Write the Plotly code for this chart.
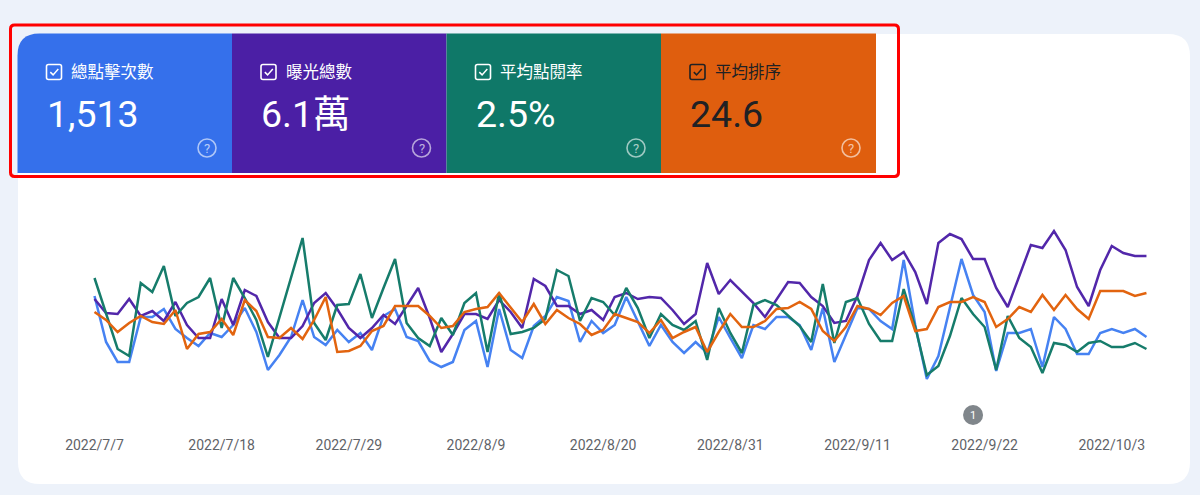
import plotly.graph_objects as go
import pandas as pd

# ---------------- data ----------------
start_date = "2022-07-07"
n_days = 92
dates = pd.date_range(start_date, periods=n_days, freq="D")

tick_dates = ["2022-07-07", "2022-07-18", "2022-07-29", "2022-08-09", "2022-08-20",
              "2022-08-31", "2022-09-11", "2022-09-22", "2022-10-03"]
tick_labels = ["2022/7/7", "2022/7/18", "2022/7/29", "2022/8/9", "2022/8/20",
               "2022/8/31", "2022/9/11", "2022/9/22", "2022/10/3"]

metric_names = ["總點擊次數", "曝光總數", "平均點閱率", "平均排序"]
metric_totals = ["1,513", "6.1萬", "2.5%", "24.6"]

# relative chart heights of each metric (each metric has its own hidden scale)
clicks = [104, 58, 38, 38, 83, 83, 91, 71, 62, 54, 67, 63, 75, 92, 68, 30, 45, 63, 100, 63,
          55, 70, 58, 67, 50, 84, 91, 63, 59, 39, 33, 38, 70, 79, 33, 91, 50, 42, 74, 84,
          103, 99, 58, 79, 67, 75, 103, 79, 54, 75, 58, 47, 58, 47, 83, 62, 42, 75, 71, 83,
          83, 75, 50, 92, 38, 65, 92, 91, 79, 71, 140, 75, 21, 44, 92, 141, 105, 88, 29, 67,
          67, 71, 33, 83, 71, 46, 46, 67, 71, 67, 71, 63]
impressions = [101, 87, 86, 101, 84, 89, 79, 98, 75, 62, 62, 101, 75, 110, 104, 78, 62, 62, 74, 97,
               107, 91, 72, 62, 72, 85, 76, 94, 112, 82, 48, 66, 86, 86, 81, 100, 88, 72, 121, 114,
               94, 94, 86, 90, 80, 103, 107, 101, 103, 102, 90, 76, 86, 137, 106, 120, 109, 97, 83, 101,
               118, 117, 103, 94, 77, 79, 104, 140, 157, 140, 148, 128, 96, 157, 166, 161, 141, 141, 112, 93,
               125, 155, 152, 169, 150, 113, 94, 130, 154, 147, 144, 144]
ctr = [122, 86, 51, 44, 117, 108, 134, 84, 97, 103, 122, 72, 122, 102, 80, 43, 83, 123, 162, 77,
       60, 95, 96, 126, 82, 112, 141, 77, 62, 54, 82, 65, 97, 107, 48, 107, 66, 68, 72, 81,
       130, 124, 79, 102, 98, 85, 112, 92, 62, 86, 75, 70, 79, 40, 92, 67, 47, 95, 100, 95,
       84, 74, 58, 116, 57, 98, 102, 76, 59, 59, 111, 73, 25, 34, 64, 102, 86, 73, 30, 84,
       62, 53, 27, 57, 55, 48, 57, 59, 53, 53, 57, 51]
position = [88, 80, 68, 77, 84, 78, 76, 90, 51, 66, 68, 81, 65, 100, 89, 63, 62, 72, 61, 80,
            103, 48, 49, 54, 69, 74, 94, 94, 94, 84, 72, 74, 88, 91, 93, 107, 92, 78, 96, 76,
            90, 82, 76, 65, 70, 86, 82, 78, 67, 80, 62, 68, 73, 48, 68, 86, 73, 73, 79, 91,
            92, 98, 91, 69, 59, 73, 94, 91, 85, 97, 104, 69, 71, 93, 98, 98, 103, 98, 73, 81,
            93, 88, 105, 90, 105, 91, 81, 109, 109, 109, 104, 107]

annotation_date = "2022-09-21"
annotation_label = "1"

# ---------------- style ----------------
W, H = 1200, 495
PLOT_BOTTOM = 435          # pixel row of the x axis
FIRST_X = 94.5             # pixel of first date
DAY_PX = 11.56             # pixels per day

tile_colors = ["#3570eb", "#4b1fa5", "#0f7868", "#df5e0e"]
line_colors = ["#4682f2", "#5227aa", "#167c6b", "#e2640f"]
text_colors = ["#ffffff", "#ffffff", "#ffffff", "#202124"]
tile_edges = [17.5, 232, 446.5, 661, 876]
TILE_TOP, TILE_BOTTOM = 33.5, 173

FONT = "Roboto, 'Noto Sans CJK TC', sans-serif"


def px(x):
    return x / W


def py(y):
    return (PLOT_BOTTOM - y) / PLOT_BOTTOM


def pt(x, y):
    return f"{px(x):.6f},{py(y):.6f}"


def rr_path(x0, y0, x1, y1, tl, tr, br, bl):
    return (f"M {pt(x0 + tl, y0)} L {pt(x1 - tr, y0)} Q {pt(x1, y0)} {pt(x1, y0 + tr)} "
            f"L {pt(x1, y1 - br)} Q {pt(x1, y1)} {pt(x1 - br, y1)} "
            f"L {pt(x0 + bl, y1)} Q {pt(x0, y1)} {pt(x0, y1 - bl)} "
            f"L {pt(x0, y0 + tl)} Q {pt(x0, y0)} {pt(x0 + tl, y0)} Z")


fig = go.Figure()

series = [clicks, impressions, ctr, position]
for vals, col, name in zip(series, line_colors, metric_names):
    fig.add_trace(go.Scatter(x=dates, y=vals, mode="lines", name=name,
                             line=dict(color=col, width=2.5), hoverinfo="skip"))

shapes = []
annotations = []

# white card
shapes.append(dict(type="path", xref="paper", yref="paper", layer="below",
                   path=rr_path(18, 34, 1190, 484, 22, 22, 22, 22),
                   fillcolor="#ffffff", line=dict(width=0)))

# metric tiles
for i in range(4):
    xl, xr = tile_edges[i], tile_edges[i + 1]
    tl = 22 if i == 0 else 0
    shapes.append(dict(type="path", xref="paper", yref="paper", layer="below",
                       path=rr_path(xl, TILE_TOP, xr, TILE_BOTTOM, tl, 0, 0, 0),
                       fillcolor=tile_colors[i], line=dict(width=0)))
    tc = text_colors[i]
    # checkbox
    bx, by = xl + 29, 64.5
    shapes.append(dict(type="path", xref="paper", yref="paper", layer="above",
                       path=rr_path(bx, by, bx + 15, by + 15, 2, 2, 2, 2),
                       fillcolor="rgba(0,0,0,0)", line=dict(color=tc, width=1.6)))
    shapes.append(dict(type="path", xref="paper", yref="paper", layer="above",
                       path=f"M {pt(bx + 3.8, by + 7.6)} L {pt(bx + 6.6, by + 10.4)} L {pt(bx + 11.8, by + 4.6)}",
                       line=dict(color=tc, width=1.5)))
    annotations.append(dict(xref="paper", yref="paper", x=px(xl + 51.5), y=py(72),
                            xanchor="left", yanchor="middle", showarrow=False,
                            text=metric_names[i], font=dict(family=FONT, size=16.5, color=tc)))
    annotations.append(dict(xref="paper", yref="paper", x=px(xl + 27), y=py(114),
                            xanchor="left", yanchor="middle", showarrow=False,
                            text=metric_totals[i], font=dict(family=FONT, size=37.5, color=tc)))
    # help icon
    cx, cy = xr - 25, 148
    shapes.append(dict(type="circle", xref="paper", yref="paper", layer="above",
                       x0=px(cx - 9), x1=px(cx + 9), y0=py(cy + 9), y1=py(cy - 9),
                       line=dict(color="rgba(255,255,255,0.6)", width=1.6)))
    annotations.append(dict(xref="paper", yref="paper", x=px(cx), y=py(cy),
                            xanchor="center", yanchor="middle", showarrow=False,
                            text="?", font=dict(family=FONT, size=13, color="rgba(255,255,255,0.65)")))

# red highlight frame
shapes.append(dict(type="path", xref="paper", yref="paper", layer="above",
                   path=rr_path(10.5, 25, 898.5, 176.5, 4, 4, 4, 4),
                   line=dict(color="#ff0000", width=3)))

# annotation marker
shapes.append(dict(type="circle", xref="x", yref="paper", layer="above",
                   xsizemode="pixel", xanchor=annotation_date, x0=-10, x1=10,
                   ysizemode="pixel", yanchor=py(415), y0=-10, y1=10,
                   fillcolor="#80868b", line=dict(width=0)))
annotations.append(dict(xref="x", yref="paper", x=annotation_date, y=py(415),
                        xanchor="center", yanchor="middle", showarrow=False,
                        text=annotation_label, font=dict(family=FONT, size=11, color="#ffffff")))

d0 = pd.Timestamp(start_date)
x_start = d0 - pd.Timedelta(days=FIRST_X / DAY_PX)
x_end = d0 + pd.Timedelta(days=(W - FIRST_X) / DAY_PX)

fig.update_layout(
    width=W, height=H,
    margin=dict(l=0, r=0, t=0, b=H - PLOT_BOTTOM, pad=0),
    paper_bgcolor="#edf2fa", plot_bgcolor="rgba(0,0,0,0)",
    showlegend=False,
    font=dict(family=FONT),
    xaxis=dict(type="date", range=[x_start, x_end], tickvals=tick_dates, ticktext=tick_labels,
               showgrid=False, zeroline=False, showline=False, ticks="",
               tickfont=dict(family="Roboto", size=14, color="#5f6368"), fixedrange=True),
    yaxis=dict(range=[400 - PLOT_BOTTOM, 400], visible=False, fixedrange=True),
    shapes=shapes,
    annotations=annotations,
)

fig.write_html("out.html", config={"displayModeBar": False},
               post_script="document.body.style.margin='0';")
